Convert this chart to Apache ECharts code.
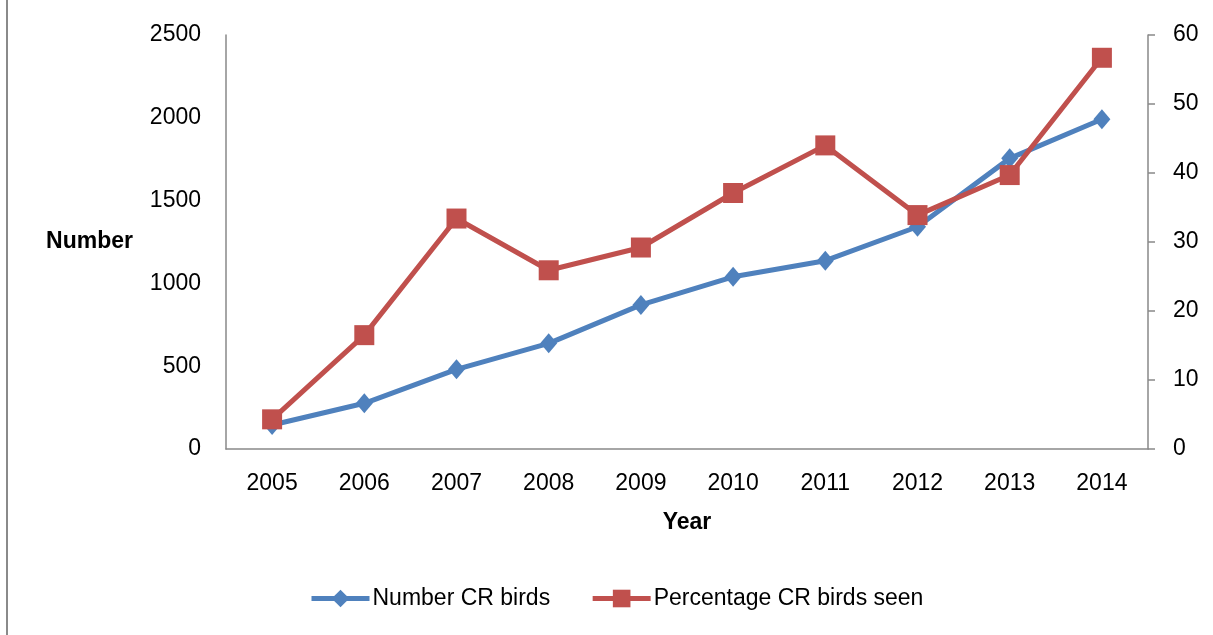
<!DOCTYPE html>
<html>
<head>
<meta charset="utf-8">
<script src="https://cdn.jsdelivr.net/npm/echarts@6/dist/echarts.min.js"></script>
<style>
  html, body { margin: 0; padding: 0; background: #fff; }
  #chart { width: 1213px; height: 635px; }
</style>
</head>
<body>
<div id="chart"></div>
<script>
// data
var years = ['2005', '2006', '2007', '2008', '2009', '2010', '2011', '2012', '2013', '2014'];
var numberBirds = [145, 276, 481, 638, 870, 1040, 1137, 1342, 1755, 1991];
var percentSeen = [4.3, 16.5, 33.4, 25.9, 29.2, 37.1, 44.0, 33.9, 39.7, 56.7];

var font = 'Liberation Sans';
var axisGray = '#898989';

var chart = echarts.init(document.getElementById('chart'));
chart.setOption({
  animation: false,
  textStyle: { fontFamily: font },
  grid: { left: 226, right: 65, top: 35, bottom: 186 },
  graphic: [{
    type: 'rect',
    shape: { x: 6, y: 0, width: 2, height: 635 },
    style: { fill: '#8a8a8a' }
  }],
  legend: {
    left: 304,
    top: 582,
    itemWidth: 58,
    itemHeight: 22,
    itemGap: 40,
    lineStyle: { width: 5 },
    textStyle: { fontFamily: font, fontSize: 23, color: '#000', padding: [0, 0, 0, -2] },
    data: ['Number CR birds', 'Percentage CR birds seen']
  },
  xAxis: {
    type: 'category',
    data: years,
    name: 'Year',
    nameLocation: 'middle',
    nameGap: 62,
    nameTextStyle: { fontFamily: font, fontSize: 23, fontWeight: 'bold', color: '#000' },
    axisLine: { lineStyle: { color: axisGray, width: 1.5 } },
    axisTick: { show: false },
    axisLabel: { fontFamily: font, fontSize: 23, color: '#000', margin: 23 }
  },
  yAxis: [{
    type: 'value',
    min: 0, max: 2500, interval: 500,
    name: 'Number',
    nameLocation: 'middle',
    nameRotate: 0,
    nameGap: 93,
    nameTextStyle: { fontFamily: font, fontSize: 23, fontWeight: 'bold', color: '#000', align: 'right' },
    axisLine: { show: true, lineStyle: { color: axisGray, width: 1.5 } },
    axisTick: { show: false },
    splitLine: { show: false },
    axisLabel: { fontFamily: font, fontSize: 23, color: '#000', margin: 25, formatter: function (v) { return String(v); } }
  }, {
    type: 'value',
    min: 0, max: 60, interval: 10,
    position: 'right',
    axisLine: { show: true, lineStyle: { color: axisGray, width: 1.5 } },
    axisTick: { show: true, length: 7, lineStyle: { color: axisGray, width: 1.5 } },
    splitLine: { show: false },
    axisLabel: { fontFamily: font, fontSize: 23, color: '#000', margin: 25 }
  }],
  series: [{
    name: 'Number CR birds',
    type: 'line',
    yAxisIndex: 0,
    data: numberBirds,
    symbol: 'diamond',
    symbolSize: [17, 20],
    lineStyle: { color: '#4F81BD', width: 5 },
    itemStyle: { color: '#4F81BD' }
  }, {
    name: 'Percentage CR birds seen',
    type: 'line',
    yAxisIndex: 1,
    data: percentSeen,
    symbol: 'rect',
    symbolSize: 20,
    lineStyle: { color: '#C0504D', width: 5 },
    itemStyle: { color: '#C0504D' }
  }]
});
</script>
</body>
</html>
